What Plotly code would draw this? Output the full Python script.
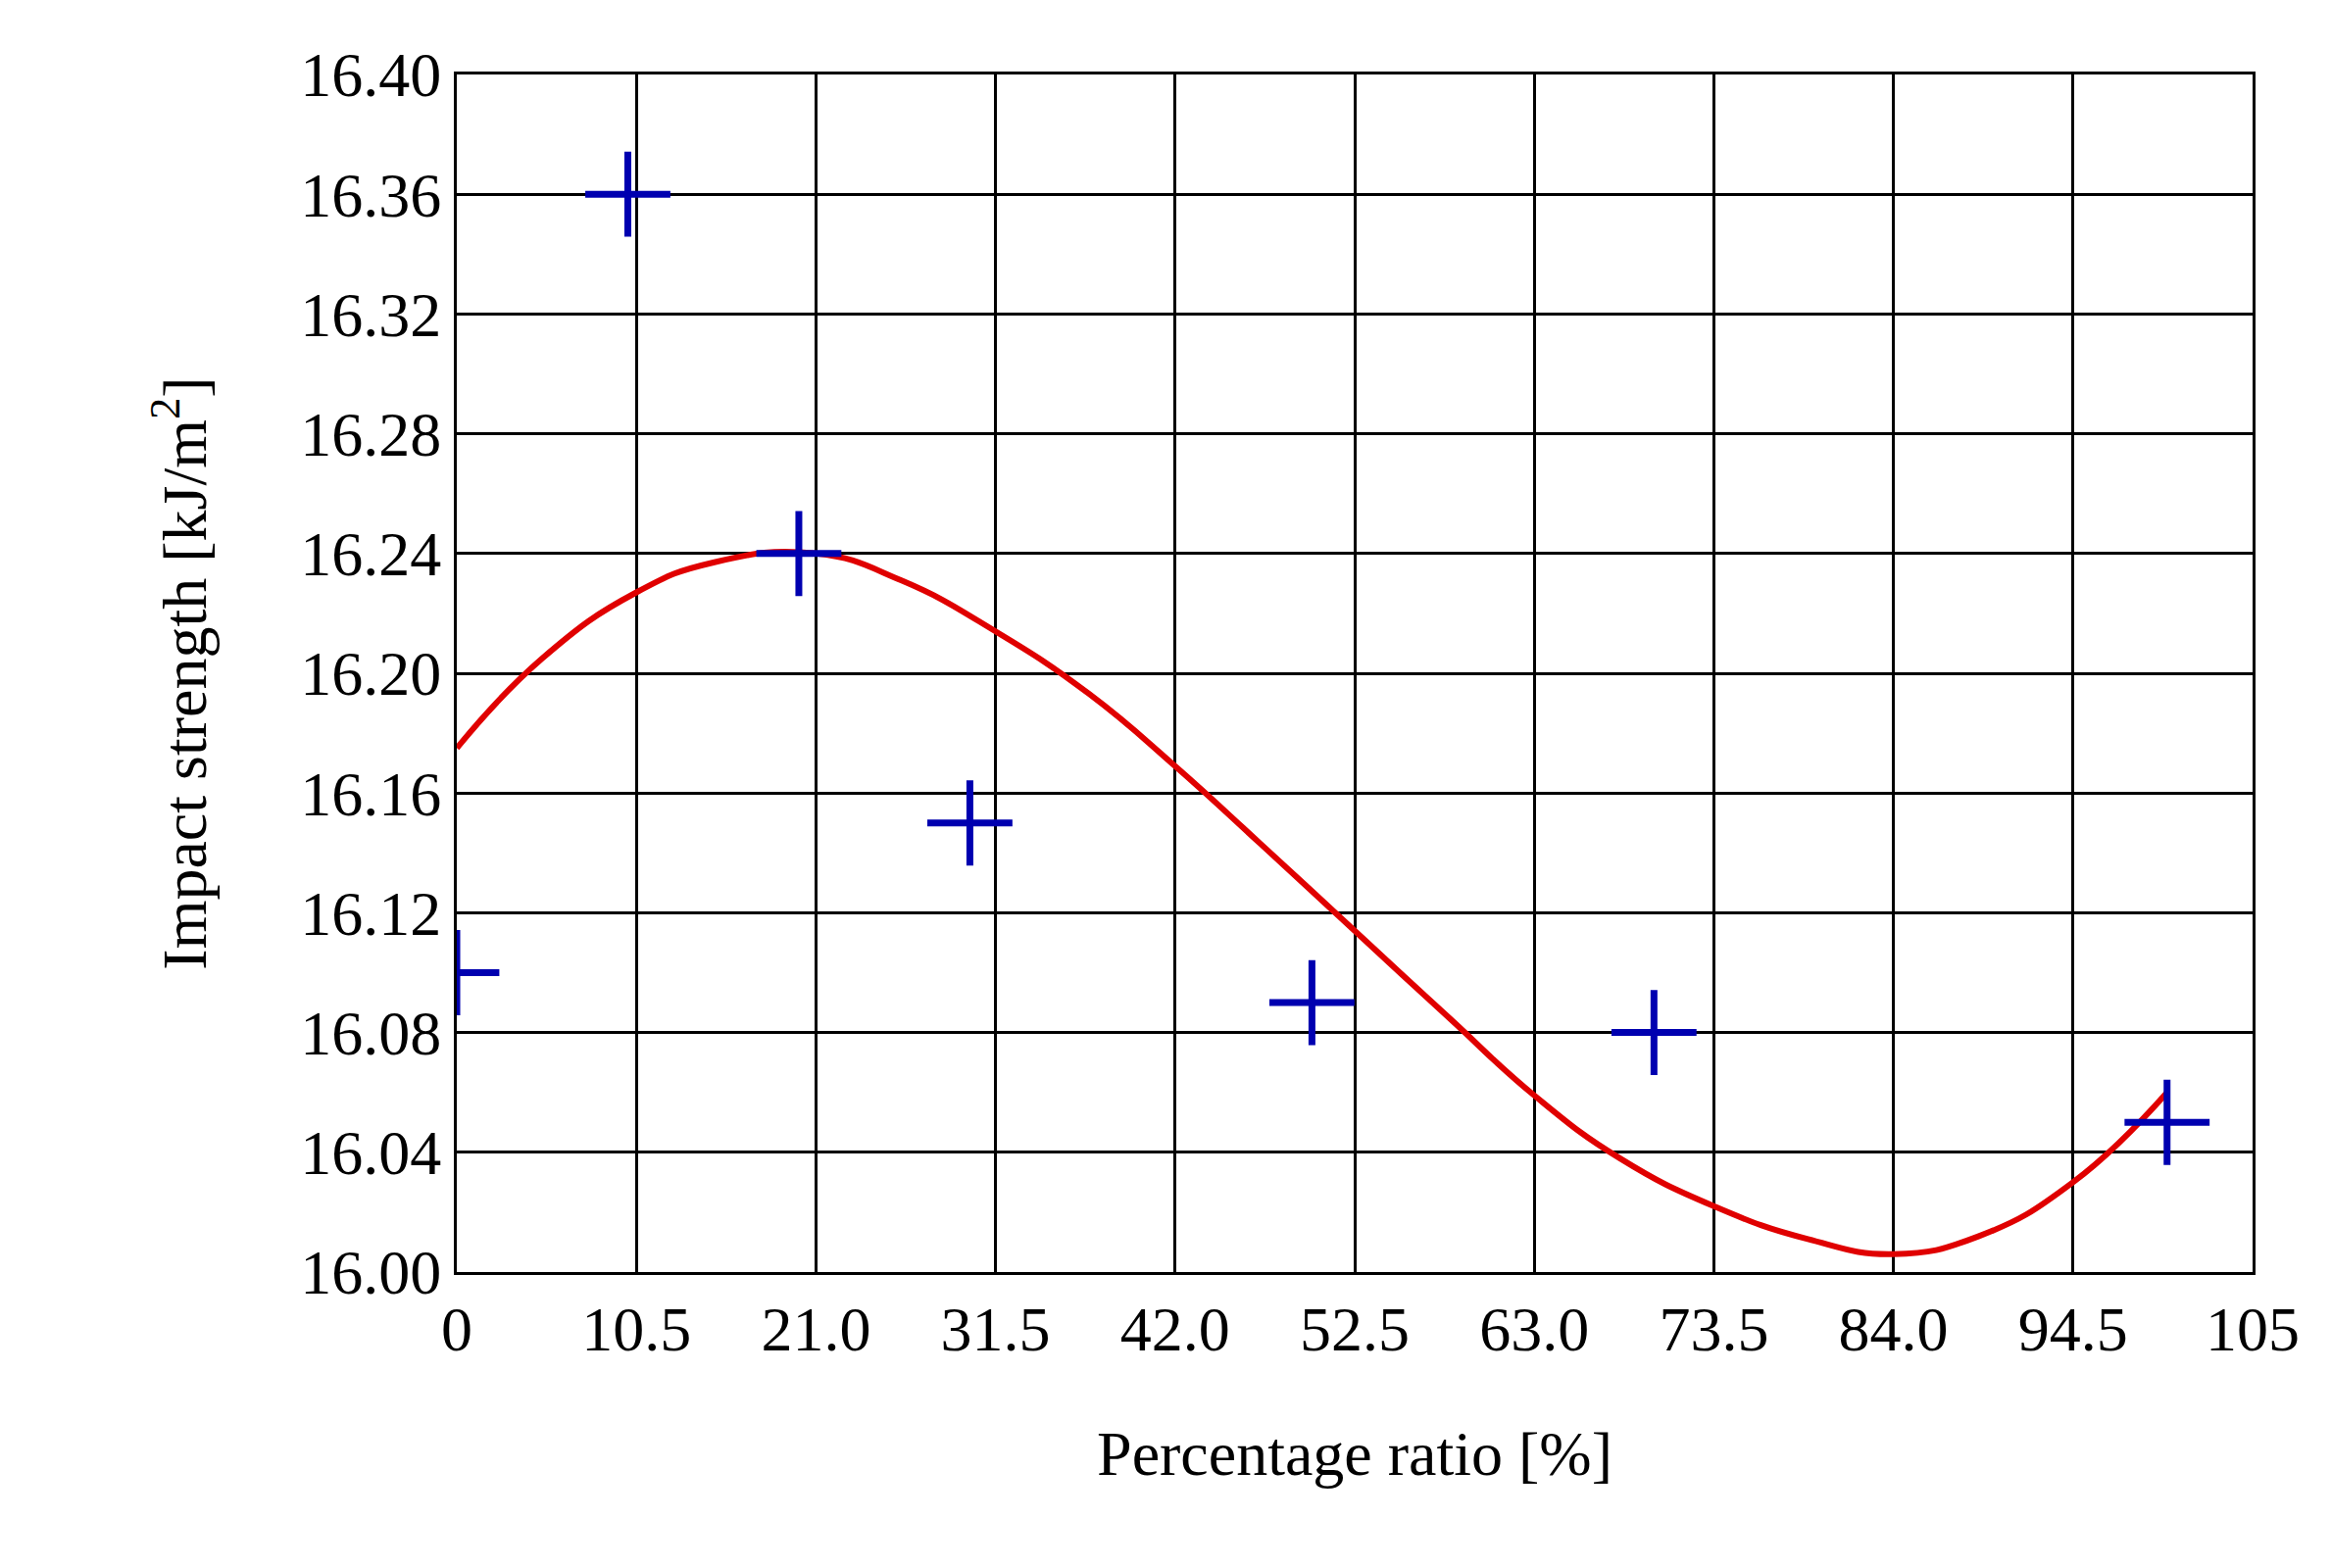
import plotly.graph_objects as go

pts_x = [0, 10, 20, 30, 50, 70, 100]
pts_y = [16.10, 16.36, 16.24, 16.15, 16.09, 16.08, 16.05]

curve_x = [0, 5, 10.5, 15, 21, 26, 31.5, 37, 42, 47, 52.5, 58, 63, 68, 73.5, 79, 84, 89, 94.5, 100]
curve_y = [16.175, 16.205, 16.227, 16.237, 16.240, 16.231, 16.214, 16.193, 16.169, 16.143,
           16.114, 16.085, 16.059, 16.038, 16.022, 16.011, 16.006, 16.012, 16.030, 16.060]

x_ticks = [0, 10.5, 21, 31.5, 42, 52.5, 63, 73.5, 84, 94.5, 105]
x_labels = ["0", "10.5", "21.0", "31.5", "42.0", "52.5", "63.0", "73.5", "84.0", "94.5", "105"]
y_ticks = [16.00, 16.04, 16.08, 16.12, 16.16, 16.20, 16.24, 16.28, 16.32, 16.36, 16.40]

fig = go.Figure()
fig.add_trace(go.Scatter(x=curve_x, y=curve_y, mode="lines",
                         line=dict(color="#e00000", width=6, shape="spline", smoothing=1.3)))
fig.add_trace(go.Scatter(x=pts_x, y=pts_y, mode="markers",
                         marker=dict(symbol="cross-thin", size=62, line=dict(color="#0000b0", width=7))))

font = dict(family="Liberation Serif", size=64, color="black")
axis = dict(showgrid=True, gridcolor="black", gridwidth=3, showline=True, linecolor="black",
            linewidth=3, mirror=True, zeroline=False, tickfont=font, ticks="")
fig.update_xaxes(axis, range=[0, 105], tickvals=x_ticks, ticktext=x_labels,
                 title=dict(text="Percentage ratio [%]", font=font, standoff=70))
fig.update_yaxes(axis, range=[16.0, 16.4], tickvals=y_ticks, tickformat=".2f",
                 title=dict(text="Impact strength [kJ/m<sup>2</sup>]", font=font, standoff=75))
fig.update_layout(width=2378, height=1600, showlegend=False, plot_bgcolor="white", paper_bgcolor="white",
                  margin=dict(l=458, r=88, t=68, b=310))
fig.write_html("out.html")
